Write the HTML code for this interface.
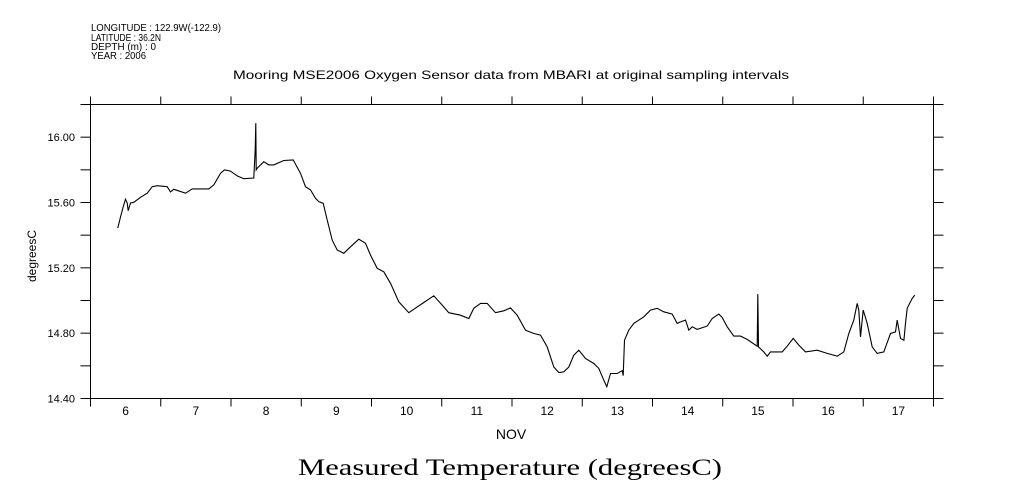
<!DOCTYPE html>
<html><head><meta charset="utf-8"><style>
body{margin:0;background:#fff}
svg{display:block}
text{font-family:"Liberation Sans",sans-serif;fill:#000}
</style></head><body>
<svg id="chart" width="1009" height="504" viewBox="0 0 1009 504" xmlns="http://www.w3.org/2000/svg">
<g font-size="10">
<text x="91" y="31" textLength="130" lengthAdjust="spacingAndGlyphs">LONGITUDE : 122.9W(-122.9)</text>
<text x="91" y="41" textLength="70" lengthAdjust="spacingAndGlyphs">LATITUDE : 36.2N</text>
<text x="91" y="50" textLength="65" lengthAdjust="spacingAndGlyphs">DEPTH (m) : 0</text>
<text x="91" y="59" textLength="55" lengthAdjust="spacingAndGlyphs">YEAR : 2006</text>
</g>
<text x="233" y="79" font-size="12" textLength="556" lengthAdjust="spacingAndGlyphs">Mooring MSE2006 Oxygen Sensor data from MBARI at original sampling intervals</text>
<text x="0" y="0" font-size="12" text-anchor="middle" transform="translate(36,256) rotate(-90)">degreesC</text>
<text x="511" y="439" font-size="14" text-anchor="middle">NOV</text>
<text x="298" y="475" font-size="23" textLength="424" lengthAdjust="spacingAndGlyphs" style="font-family:'Liberation Serif',serif">Measured Temperature (degreesC)</text>
<g id="axes"></g>
<g id="series"></g>
</svg>
<script>
const days=[6.389,6.427,6.465,6.498,6.522,6.537,6.569,6.616,6.712,6.807,6.878,6.949,7.092,7.139,7.186,7.352,7.448,7.684,7.755,7.851,7.907,7.993,8.088,8.182,8.325,8.345,8.353,8.359,8.373,8.467,8.538,8.609,8.752,8.885,8.989,9.060,9.132,9.203,9.250,9.312,9.369,9.441,9.512,9.606,9.701,9.819,9.915,9.986,10.081,10.175,10.270,10.389,10.531,10.651,10.744,10.887,11.006,11.100,11.267,11.385,11.456,11.552,11.647,11.765,11.883,11.979,12.074,12.192,12.310,12.406,12.501,12.595,12.666,12.737,12.809,12.880,12.951,13.046,13.164,13.236,13.307,13.350,13.402,13.497,13.569,13.583,13.601,13.663,13.734,13.876,13.972,14.067,14.161,14.281,14.352,14.399,14.470,14.517,14.565,14.636,14.778,14.850,14.944,14.992,15.063,15.157,15.253,15.348,15.491,15.499,15.509,15.584,15.633,15.680,15.846,15.918,16.003,16.083,16.178,16.345,16.487,16.629,16.723,16.794,16.865,16.914,16.937,16.961,16.999,17.056,17.127,17.199,17.293,17.388,17.459,17.483,17.530,17.578,17.601,17.626,17.697,17.734];
const temps=[15.444,15.511,15.573,15.620,15.597,15.550,15.597,15.601,15.632,15.657,15.697,15.703,15.697,15.665,15.681,15.657,15.683,15.683,15.708,15.779,15.800,15.792,15.763,15.746,15.750,15.922,16.086,15.800,15.810,15.850,15.830,15.830,15.857,15.861,15.779,15.697,15.677,15.626,15.605,15.595,15.493,15.370,15.309,15.289,15.329,15.375,15.350,15.278,15.197,15.176,15.105,14.992,14.925,14.961,14.988,15.029,14.972,14.925,14.910,14.890,14.952,14.982,14.982,14.925,14.937,14.955,14.910,14.818,14.798,14.788,14.716,14.593,14.559,14.563,14.593,14.665,14.696,14.645,14.614,14.584,14.512,14.472,14.553,14.553,14.570,14.540,14.757,14.819,14.860,14.900,14.941,14.952,14.931,14.917,14.860,14.869,14.880,14.819,14.839,14.823,14.843,14.890,14.917,14.896,14.839,14.782,14.782,14.762,14.720,15.039,14.716,14.685,14.659,14.685,14.685,14.720,14.768,14.727,14.685,14.696,14.676,14.659,14.685,14.798,14.880,14.982,14.941,14.777,14.941,14.860,14.716,14.676,14.685,14.798,14.808,14.880,14.768,14.757,14.860,14.952,15.013,15.033];
const dayLabels=["6","7","8","9","10","11","12","13","14","15","16","17"];
const yTicks=[14.4,14.6,14.8,15.0,15.2,15.4,15.6,15.8,16.0];
const yLabels=["14.40","","14.80","","15.20","","15.60","","16.00"];
const xMin=6,xMax=18,yMin=14.4,yMax=16.2;
const L=90.5,R=933.5,T=104.5,B=398.5;
const NS="http://www.w3.org/2000/svg";
function X(d){return L+(d-xMin)/(xMax-xMin)*(R-L);}
function Y(v){return B-(v-yMin)/(yMax-yMin)*(B-T);}
function mk(tag,attrs,parent){const e=document.createElementNS(NS,tag);for(const k in attrs)e.setAttribute(k,attrs[k]);parent.appendChild(e);return e;}
const ax=document.getElementById('axes');
const frame=mk('rect',{x:L,y:T,width:R-L,height:B-T,fill:'none',stroke:'#000','stroke-width':1},ax);


for(let d=xMin;d<=xMax;d++){
  const x=X(d);
  const tb=mk('line',{x1:x,x2:x,y1:B,y2:B+8,stroke:'#000'},ax);
  
  
  const tt=mk('line',{x1:x,x2:x,y1:T,y2:T-8,stroke:'#000'},ax);
  
  
}
mk('line',{x1:L-10,x2:R+10,y1:T,y2:T,stroke:'#000'},ax);
mk('line',{x1:L-10,x2:R+10,y1:B,y2:B,stroke:'#000'},ax);
dayLabels.forEach((lab,i)=>{
  const t=mk('text',{x:X(xMin+i+0.5),y:415,'font-size':12,'text-anchor':'middle'},ax);
  t.textContent=lab;
  
  
});
yTicks.forEach((v,i)=>{
  const y=Y(v);
  const tl=mk('line',{x1:L-10,x2:L,y1:y,y2:y,stroke:'#000'},ax);
  
  
  const tr=mk('line',{x1:R,x2:R+10,y1:y,y2:y,stroke:'#000'},ax);
  
  
  if(yLabels[i]){
    const t=mk('text',{x:75,y:y+4,'font-size':11,'text-anchor':'end'},ax);
    t.textContent=yLabels[i];
    
    
  }
});
const pts=days.map((d,i)=>X(d).toFixed(1)+','+Y(temps[i]).toFixed(1)).join(' ');
const line=mk('polyline',{points:pts,fill:'none',stroke:'#000','stroke-width':1.1},document.getElementById('series'));


</script>
</body></html>
